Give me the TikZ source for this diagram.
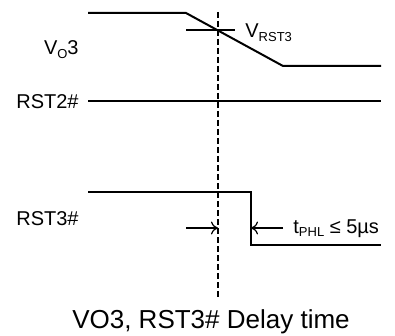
\documentclass[tikz,border=0pt]{standalone}
\usepackage{fontspec}
\setmainfont{Liberation Sans}
\usetikzlibrary{arrows.meta}
\newcommand{\lowsub}[1]{\raisebox{-0.3ex}{\fontsize{6.5}{7}\selectfont #1}}
\begin{document}
\begin{tikzpicture}[x=0.5pt,y=-0.5pt,font=\fontsize{10}{12}\selectfont]
\useasboundingbox (0,0) rectangle (395,336);

% waveform corners
\coordinate (v1) at (88,13);
\coordinate (v2) at (186,13);
\coordinate (v3) at (283,66);
\coordinate (v4) at (381,66);
\coordinate (r2a) at (88,101);
\coordinate (r2b) at (381,101);
\coordinate (r3a) at (88,192);
\coordinate (r3b) at (251,192);
\coordinate (r3c) at (251,245);
\coordinate (r3d) at (381,245);
\coordinate (t1) at (186,30);
\coordinate (t2) at (235,30);
\coordinate (d1) at (218,12);
\coordinate (d2) at (218,298);
\coordinate (a1) at (186,228);
\coordinate (a2) at (218,228);
\coordinate (b1) at (283,228);
\coordinate (b2) at (251,228);

\path[draw,line width=1pt] (v1) -- (v2) -- (v3) -- (v4);
\path[draw,line width=1pt] (r2a) -- (r2b);
\path[draw,line width=1pt] (r3a) -- (r3b) -- (r3c) -- (r3d);
\path[draw,line width=1pt] (t1) -- (t2);
\path[draw,line width=0.7pt,dash pattern=on 3pt off 1.5pt] (d1) -- (d2);
\path[draw,line width=0.6pt,->,>={To[length=3.5pt,width=6.5pt]}] (a1) -- (a2);
\path[draw,line width=0.6pt,->,>={To[length=3.5pt,width=6.5pt]}] (b1) -- (b2);

% labels
\node[anchor=base east,inner sep=0pt] (vo) at (79,55) {V\lowsub{O}3};
\node[anchor=base east,inner sep=0pt] (rst2) at (79,109) {RST2\#};
\node[anchor=base east,inner sep=0pt] (rst3) at (79,225) {RST3\#};
\node[anchor=base west,inner sep=0pt] (vrst) at (245,38) {V\lowsub{RST3}};
\node[anchor=base west,inner sep=0pt] (tphl) at (293,233) {t\lowsub{PHL} ≤ 5µs};
\node[anchor=base,inner sep=0pt,font=\fontsize{13}{15}\selectfont] (title) at (211,328) {VO3, RST3\# Delay time};
\end{tikzpicture}
\end{document}
